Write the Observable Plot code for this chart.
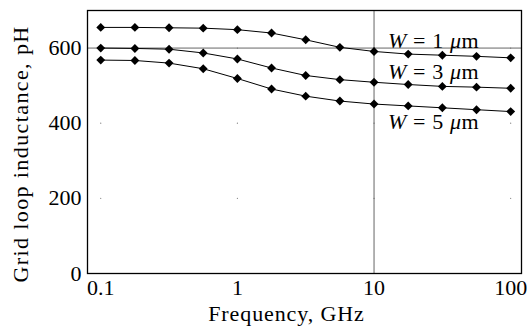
<!DOCTYPE html>
<html><head><meta charset="utf-8">
<script src="https://cdn.jsdelivr.net/npm/d3@7"></script>
<script src="https://cdn.jsdelivr.net/npm/@observablehq/plot@0.6"></script>
<style>body{margin:0;background:#fff} .xlab text{letter-spacing:0.9px} .ylab text{letter-spacing:1.4px} .wlab text{letter-spacing:0.6px}</style>
</head><body><div id="chart"></div>
<script>
const freqs = [0.1, 0.1778, 0.3162, 0.5623, 1, 1.778, 3.162, 5.623, 10, 17.78, 31.62, 56.23, 100];
const w1 = [655, 655, 654, 653, 649, 640, 622, 602, 591, 584, 581, 578, 574];
const w3 = [600, 599, 597, 587, 571, 547, 527, 516, 509, 503, 498, 496, 493];
const w5 = [568, 567, 560, 545, 519, 491, 472, 459, 451, 446, 441, 436, 431];
const seriesNames = ["W = 1 μm", "W = 3 μm", "W = 5 μm"];
const xTicks = [0.1, 1, 10, 100];
const yTicks = [0, 200, 400, 600];
const gridX = [10];
const gridY = [600];
const xTitle = "Frequency, GHz";
const yTitle = "Grid loop inductance, pH";

const rows = [];
[w1, w3, w5].forEach((vals, i) => vals.forEach((v, j) => rows.push({f: freqs[j], L: v, s: seriesNames[i]})));

const labelAt = 8;
const labelRows = [w1, w3, w5].map((vals, i) => ({f: freqs[labelAt], L: vals[labelAt], s: seriesNames[i], below: i === 2}));
const dots = [];
xTicks.forEach(x => yTicks.slice(1).forEach(y => dots.push({x, y})));

const font = "Liberation Serif";
const chart = Plot.plot({
  width: 527, height: 328,
  marginLeft: 87, marginRight: 6, marginTop: 10, marginBottom: 55,
  style: {fontFamily: font, fontSize: "22px", color: "black", background: "white"},
  x: {type: "log", domain: [0.08, 120]},
  y: {domain: [0, 700]},
  marks: [
    Plot.dot(dots, {x: "x", y: "y", r: 0.6, fill: "#777", stroke: null}),
    Plot.ruleY(gridY, {stroke: "#555", strokeWidth: 0.9}),
    Plot.ruleX(gridX, {stroke: "#555", strokeWidth: 0.9}),
    Plot.frame({stroke: "black", strokeWidth: 1.3}),
    Plot.axisX({ticks: xTicks, tickFormat: d => String(d), tickSize: 0, tickPadding: 6, label: null, fontSize: 22}),
    Plot.axisY({ticks: yTicks, tickSize: 0, tickPadding: 6, label: null, fontSize: 22}),
    Plot.text([xTitle], {frameAnchor: "bottom", text: d => d, lineAnchor: "bottom", textAnchor: "middle", dx: -18, dy: 47, fontSize: 22, className: "xlab"}),
    Plot.text([yTitle], {frameAnchor: "left", text: d => d, rotate: -90, lineAnchor: "top", textAnchor: "middle", dx: -75, dy: 12, fontSize: 22, className: "ylab"}),
    Plot.line(rows, {x: "f", y: "L", z: "s", stroke: "black", strokeWidth: 1}),
    Plot.dot(rows, {x: "f", y: "L", symbol: "diamond2", r: 4, fill: "black", stroke: null}),
    Plot.text(labelRows.filter(d => !d.below), {x: "f", y: "L", text: "s", textAnchor: "start", lineAnchor: "bottom", dx: 14, dy: -3, fontSize: 22, className: "wlab"}),
    Plot.text(labelRows.filter(d => d.below), {x: "f", y: "L", text: "s", textAnchor: "start", lineAnchor: "top", dx: 14, dy: 9, fontSize: 22, className: "wlab"})
  ]
});
// italicize W and μ in labels
d3.select(chart).selectAll(".wlab text").each(function() {
  const t = this.textContent;
  const sel = d3.select(this);
  sel.text(null);
  const m = t.match(/^W( = \d )μ(m)$/);
  if (m) {
    sel.append("tspan").attr("font-style", "italic").text("W");
    sel.append("tspan").text(m[1]);
    sel.append("tspan").attr("font-style", "italic").text("μ");
    sel.append("tspan").text(m[2]);
  } else sel.text(t);
});
document.getElementById("chart").appendChild(chart);
</script>
</body></html>
